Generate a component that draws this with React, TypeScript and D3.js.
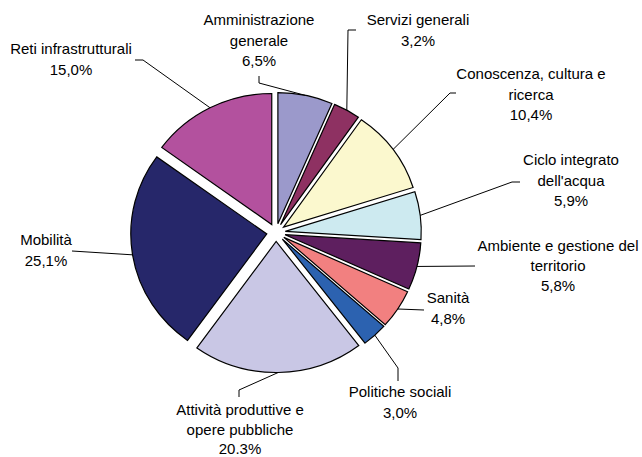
import React from 'react';
import * as d3 from 'd3';

const categories = [
  'Amministrazione generale',
  'Servizi generali',
  'Conoscenza, cultura e ricerca',
  "Ciclo integrato dell'acqua",
  'Ambiente e gestione del territorio',
  'Sanità',
  'Politiche sociali',
  'Attività produttive e opere pubbliche',
  'Mobilità',
  'Reti infrastrutturali',
];
const values = [6.5, 3.2, 10.4, 5.9, 5.8, 4.8, 3.0, 20.3, 25.1, 15.0];
const valueLabels = ['6,5%', '3,2%', '10,4%', '5,9%', '5,8%', '4,8%', '3,0%', '20.3%', '25,1%', '15,0%'];
const labelLines = [
  ['Amministrazione', 'generale'],
  ['Servizi generali'],
  ['Conoscenza, cultura e', 'ricerca'],
  ['Ciclo integrato', "dell'acqua"],
  ['Ambiente e gestione del', 'territorio'],
  ['Sanità'],
  ['Politiche sociali'],
  ['Attività produttive e', 'opere pubbliche'],
  ['Mobilità'],
  ['Reti infrastrutturali'],
];
const colors = ['#9B99CB', '#8E3162', '#FBF8CE', '#CDEAF0', '#5E1F5F', '#F28080', '#2C62B0', '#C9C7E5', '#26276A', '#B3519E'];

// layout: label centre x, first baseline y, line spacing, leader elbow points
const labelLayout = [
  { x: 259, y: 25, lh: 20.5, elbow: [[259, 76], [259, 83]] },
  { x: 418, y: 25, lh: 20.5, elbow: [[356, 30], [348, 30]] },
  { x: 531, y: 79, lh: 20.5, elbow: [[456, 93], [450, 93]] },
  { x: 571, y: 165, lh: 20.5, elbow: [[520, 182], [512, 182]] },
  { x: 558, y: 251, lh: 20, elbow: [[475, 266]] },
  { x: 448, y: 303, lh: 20.5, elbow: [[424, 310]] },
  { x: 400, y: 397, lh: 20.5, elbow: [[398, 381], [398, 368]] },
  { x: 240, y: 415, lh: 19.5, elbow: [[239, 397], [239, 390]] },
  { x: 46, y: 245, lh: 20.5, elbow: [[72, 251]] },
  { x: 71, y: 54, lh: 20.5, elbow: [[135, 60], [143, 60]] },
];

const W = 642;
const H = 457;
const CX = 276;
const CY = 232.5;
const R = 131;
const SX = 1.038;
const EXPLODE = 9;

export default function App() {
  const data = categories.map((c, i) => ({ c, v: values[i], i }));
  const pie = d3.pie<any>().value((d) => d.v).sort(null);
  const arcs = pie(data);
  const arc = d3.arc<any>().innerRadius(0).outerRadius(R);

  return (
    <svg width={W} height={H} style={{ position: 'absolute', left: 0, top: 0, background: '#fff' }}
      fontFamily="'Liberation Sans', Arial, sans-serif" fontSize={15}>
      <rect width={W} height={H} fill="#fff" />
      <g transform={`translate(${CX},${CY}) scale(${SX},1)`}>
        {arcs.map((a, i) => {
          const mid = (a.startAngle + a.endAngle) / 2;
          const dx = EXPLODE * Math.sin(mid);
          const dy = -EXPLODE * Math.cos(mid);
          return (
            <path key={i} d={arc(a) || ''} transform={`translate(${dx},${dy})`}
              fill={colors[i]} stroke="#000" strokeWidth={1.2} strokeLinejoin="miter" vectorEffect="non-scaling-stroke" />
          );
        })}
      </g>
      {arcs.map((a, i) => {
        const mid = (a.startAngle + a.endAngle) / 2;
        const px = CX + (R + EXPLODE) * Math.sin(mid) * SX;
        const py = CY - (R + EXPLODE) * Math.cos(mid);
        const L = labelLayout[i];
        const pts = [...L.elbow, [px, py]];
        const line = d3.line()(pts as [number, number][]);
        const lines = [...labelLines[i], valueLabels[i]];
        return (
          <g key={'l' + i}>
            <path d={line || ''} fill="none" stroke="#000" strokeWidth={1} />
            <text textAnchor="middle" fill="#000">
              {lines.map((t, j) => (
                <tspan key={j} x={L.x} y={L.y + j * L.lh}>{t}</tspan>
              ))}
            </text>
          </g>
        );
      })}
    </svg>
  );
}
